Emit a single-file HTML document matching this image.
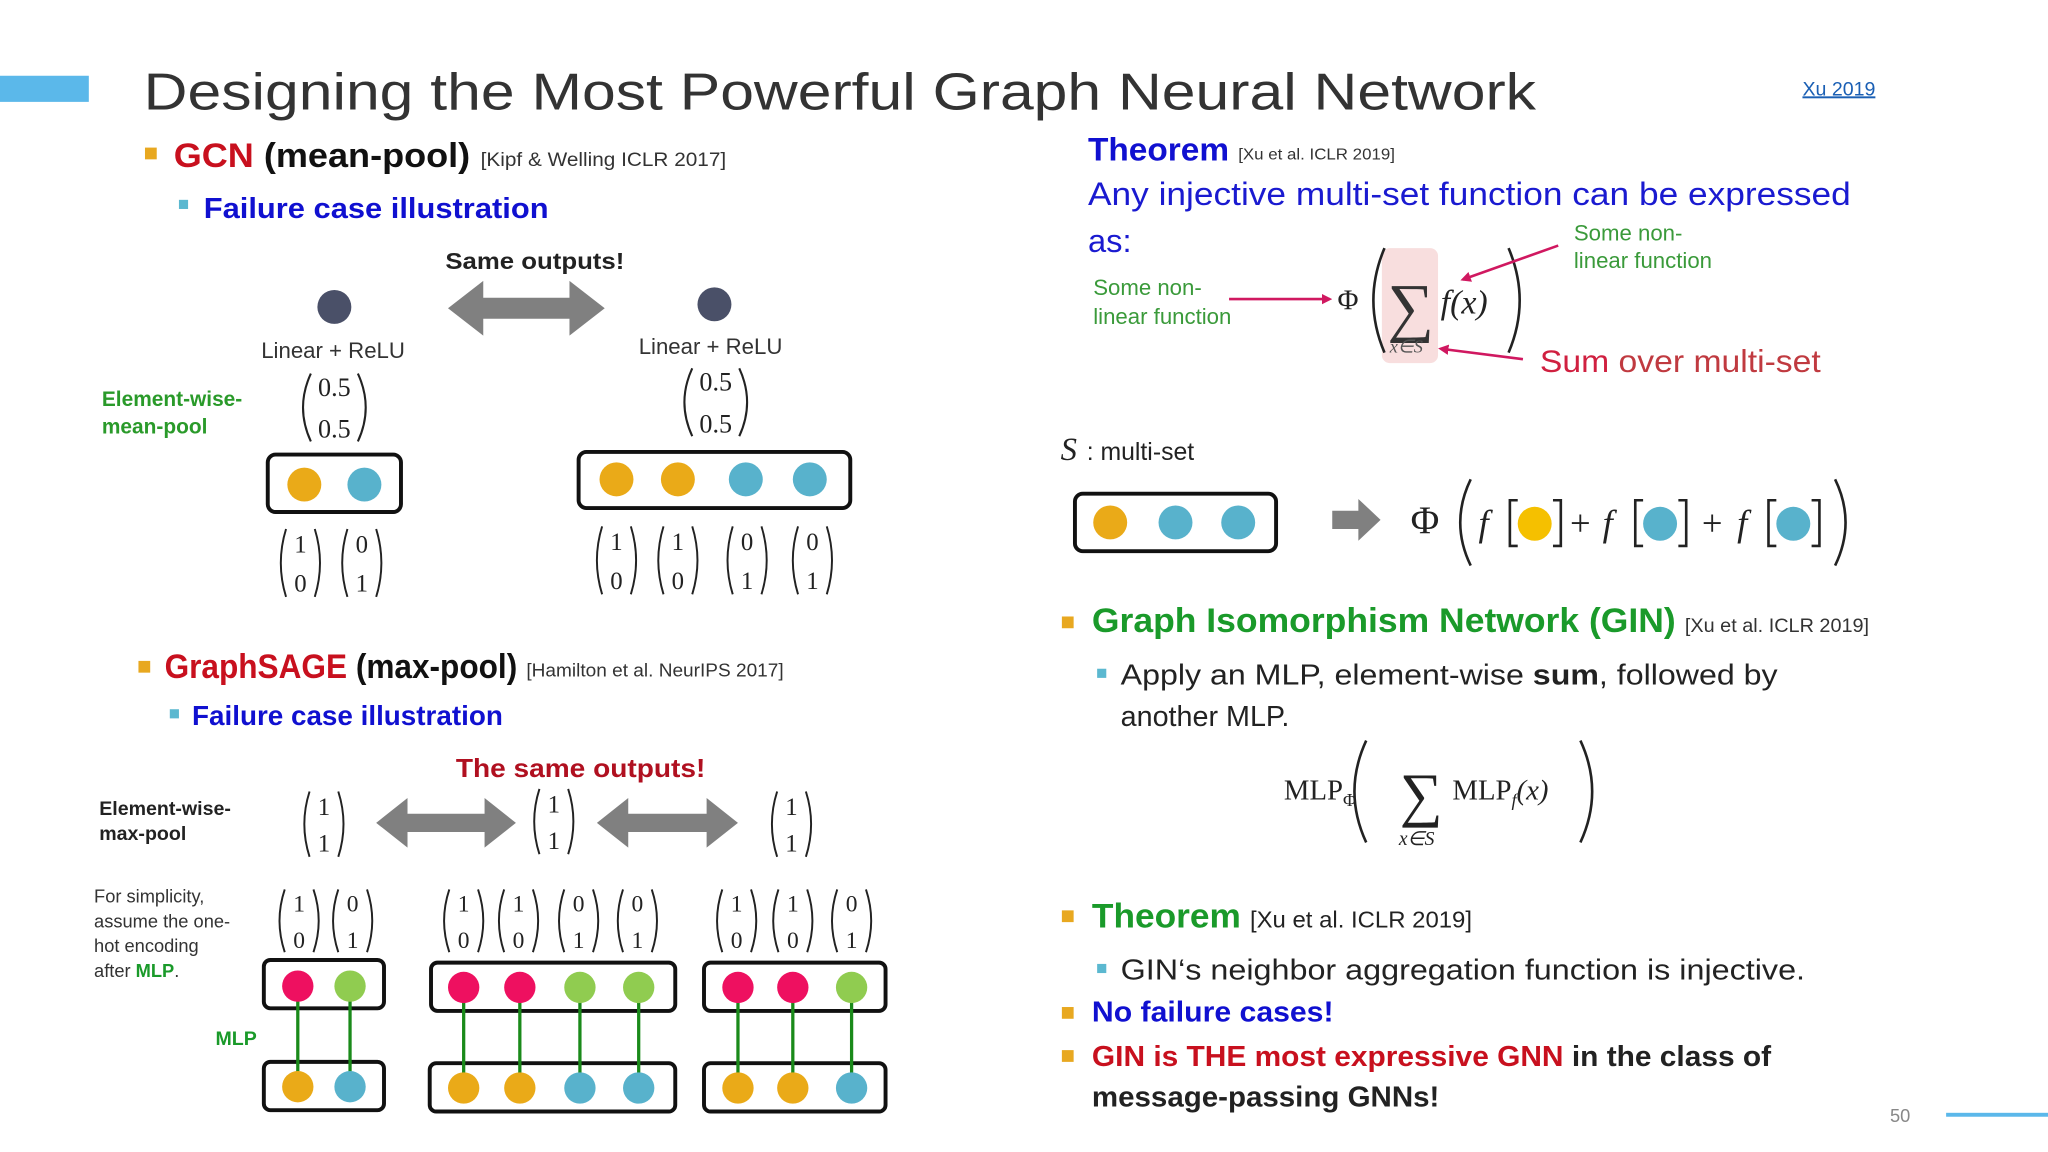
<!DOCTYPE html>
<html><head><meta charset="utf-8"><style>
html,body{margin:0;padding:0;background:#fff;width:2048px;height:1152px;overflow:hidden}
svg{display:block}
.s{font-family:"Liberation Sans",sans-serif}
.r{font-family:"Liberation Serif",serif}
</style></head><body>
<svg width="2048" height="1152" viewBox="0 0 1568 882" xmlns="http://www.w3.org/2000/svg">
<defs>
<marker id="pa" markerWidth="8" markerHeight="8" refX="6" refY="4" orient="auto" markerUnits="userSpaceOnUse"><path d="M0,0 L8,4 L0,8 z" fill="#d01860"/></marker>
</defs>
<rect width="1568" height="882" fill="#fff"/>
<rect x="0" y="58" width="68" height="20" fill="#5bb8ea"/>
<text x="110" y="84" class="s" font-size="40" fill="#333" textLength="1066" lengthAdjust="spacingAndGlyphs">Designing the Most Powerful Graph Neural Network</text>
<text x="1380" y="73" class="s" font-size="15" fill="#1a5fb4" text-decoration="underline">Xu 2019</text>

<!-- GCN -->
<rect x="111" y="113" width="9" height="9" fill="#e8a820"/>
<text x="133" y="128" class="s" font-size="26" font-weight="bold" textLength="227" lengthAdjust="spacingAndGlyphs"><tspan fill="#c8101e">GCN</tspan><tspan fill="#111"> (mean-pool)</tspan></text>
<text x="368" y="127" class="s" font-size="15" fill="#333" textLength="188" lengthAdjust="spacingAndGlyphs">[Kipf &amp; Welling ICLR 2017]</text>
<rect x="137" y="153" width="7" height="7" fill="#5bb8d0"/>
<text x="156" y="167" class="s" font-size="22" font-weight="bold" fill="#1010d0" textLength="264" lengthAdjust="spacingAndGlyphs">Failure case illustration</text>
<text x="341" y="206" class="s" font-size="18" font-weight="bold" fill="#222" textLength="137" lengthAdjust="spacingAndGlyphs">Same outputs!</text>
<circle cx="256" cy="235" r="13" fill="#4a5068"/>
<circle cx="547" cy="233" r="13" fill="#4a5068"/>
<path d="M343,236 L370,215 L370,228 L436,228 L436,215 L463,236 L436,257 L436,244 L370,244 L370,257 z" fill="#808080"/>
<text x="200" y="274" class="s" font-size="17" fill="#333">Linear + ReLU</text>
<text x="489" y="271" class="s" font-size="17" fill="#333">Linear + ReLU</text>
<text x="78" y="311" class="s" font-size="16" font-weight="bold" fill="#2a9a2a">Element-wise-</text>
<text x="78" y="332" class="s" font-size="16" font-weight="bold" fill="#2a9a2a">mean-pool</text>
<g fill="none" stroke="#222" stroke-width="1.6">
<path d="M238,286 Q226,312 238,338 M274,286 Q286,312 274,338"/>
<path d="M530,282 Q518,308 530,334 M566,282 Q578,308 566,334"/>
</g>
<g class="r" font-size="20" fill="#222" text-anchor="middle">
<text x="256" y="303">0.5</text><text x="256" y="335">0.5</text>
<text x="548" y="299">0.5</text><text x="548" y="331">0.5</text>
</g>
<rect x="205" y="348" width="102" height="44" rx="6" fill="none" stroke="#111" stroke-width="3"/>
<circle cx="233" cy="371" r="13" fill="#eaaa18"/><circle cx="279" cy="371" r="13" fill="#58b2cc"/>
<rect x="443" y="346" width="208" height="43" rx="6" fill="none" stroke="#111" stroke-width="3"/>
<circle cx="472" cy="367" r="13" fill="#eaaa18"/><circle cx="519" cy="367" r="13" fill="#eaaa18"/>
<circle cx="571" cy="367" r="13" fill="#58b2cc"/><circle cx="620" cy="367" r="13" fill="#58b2cc"/>
<g fill="none" stroke="#222" stroke-width="1.5">
<path d="M219,405 Q211,431 219,457 M241,405 Q249,431 241,457"/>
<path d="M266,405 Q258,431 266,457 M288,405 Q296,431 288,457"/>
<path d="M461,403 Q453,429 461,455 M483,403 Q491,429 483,455"/>
<path d="M508,403 Q500,429 508,455 M530,403 Q538,429 530,455"/>
<path d="M561,403 Q553,429 561,455 M583,403 Q591,429 583,455"/>
<path d="M611,403 Q603,429 611,455 M633,403 Q641,429 633,455"/>
</g>
<g class="r" font-size="19" fill="#222" text-anchor="middle">
<text x="230" y="423">1</text><text x="230" y="453">0</text>
<text x="277" y="423">0</text><text x="277" y="453">1</text>
<text x="472" y="421">1</text><text x="472" y="451">0</text>
<text x="519" y="421">1</text><text x="519" y="451">0</text>
<text x="572" y="421">0</text><text x="572" y="451">1</text>
<text x="622" y="421">0</text><text x="622" y="451">1</text>
</g>

<!-- GraphSAGE -->
<rect x="106" y="506" width="9" height="9" fill="#e8a820"/>
<text x="126" y="519" class="s" font-size="26" font-weight="bold" textLength="270" lengthAdjust="spacingAndGlyphs"><tspan fill="#c8101e">GraphSAGE</tspan><tspan fill="#111"> (max-pool)</tspan></text>
<text x="403" y="518" class="s" font-size="14" fill="#333" textLength="197" lengthAdjust="spacingAndGlyphs">[Hamilton et al. NeurIPS 2017]</text>
<rect x="130" y="543" width="7" height="7" fill="#5bb8d0"/>
<text x="147" y="555" class="s" font-size="21" font-weight="bold" fill="#1010d0" textLength="238" lengthAdjust="spacingAndGlyphs">Failure case illustration</text>
<text x="349" y="595" class="s" font-size="20" font-weight="bold" fill="#b01020" textLength="191" lengthAdjust="spacingAndGlyphs">The same outputs!</text>
<text x="76" y="624" class="s" font-size="15" font-weight="bold" fill="#222">Element-wise-</text>
<text x="76" y="643" class="s" font-size="15" font-weight="bold" fill="#222">max-pool</text>
<path d="M288,630 L312,611 L312,623 L371,623 L371,611 L395,630 L371,649 L371,637 L312,637 L312,649 z" fill="#808080"/>
<path d="M457,630 L481,611 L481,623 L541,623 L541,611 L565,630 L541,649 L541,637 L481,637 L481,649 z" fill="#808080"/>
<g fill="none" stroke="#222" stroke-width="1.5">
<path d="M237,606 Q229,631 237,656 M259,606 Q267,631 259,656"/>
<path d="M413,604 Q405,629 413,654 M435,604 Q443,629 435,654"/>
<path d="M595,606 Q587,631 595,656 M617,606 Q625,631 617,656"/>
</g>
<g class="r" font-size="19" fill="#222" text-anchor="middle">
<text x="248" y="624">1</text><text x="248" y="652">1</text>
<text x="424" y="622">1</text><text x="424" y="650">1</text>
<text x="606" y="624">1</text><text x="606" y="652">1</text>
</g>
<g class="s" font-size="14" fill="#333">
<text x="72" y="691">For simplicity,</text>
<text x="72" y="710">assume the one-</text>
<text x="72" y="729">hot encoding</text>
<text x="72" y="748">after <tspan fill="#1a9a2a" font-weight="bold">MLP</tspan>.</text>
</g>
<g fill="none" stroke="#222" stroke-width="1.5">
<path d="M218,681 Q210,705 218,729 M240,681 Q248,705 240,729"/>
<path d="M259,681 Q251,705 259,729 M281,681 Q289,705 281,729"/>
<path d="M344,681 Q336,705 344,729 M366,681 Q374,705 366,729"/>
<path d="M386,681 Q378,705 386,729 M408,681 Q416,705 408,729"/>
<path d="M432,681 Q424,705 432,729 M454,681 Q462,705 454,729"/>
<path d="M477,681 Q469,705 477,729 M499,681 Q507,705 499,729"/>
<path d="M553,681 Q545,705 553,729 M575,681 Q583,705 575,729"/>
<path d="M596,681 Q588,705 596,729 M618,681 Q626,705 618,729"/>
<path d="M641,681 Q633,705 641,729 M663,681 Q671,705 663,729"/>
</g>
<g class="r" font-size="18" fill="#222" text-anchor="middle">
<text x="229" y="698">1</text><text x="229" y="726">0</text>
<text x="270" y="698">0</text><text x="270" y="726">1</text>
<text x="355" y="698">1</text><text x="355" y="726">0</text>
<text x="397" y="698">1</text><text x="397" y="726">0</text>
<text x="443" y="698">0</text><text x="443" y="726">1</text>
<text x="488" y="698">0</text><text x="488" y="726">1</text>
<text x="564" y="698">1</text><text x="564" y="726">0</text>
<text x="607" y="698">1</text><text x="607" y="726">0</text>
<text x="652" y="698">0</text><text x="652" y="726">1</text>
</g>
<g fill="none" stroke="#111" stroke-width="3">
<rect x="202" y="735" width="92" height="37" rx="5"/>
<rect x="330" y="737" width="187" height="37" rx="5"/>
<rect x="539" y="737" width="139" height="37" rx="5"/>
<rect x="202" y="813" width="92" height="37" rx="5"/>
<rect x="329" y="814" width="188" height="37" rx="5"/>
<rect x="539" y="814" width="139" height="37" rx="5"/>
</g>
<g stroke="#1a8a1a" stroke-width="2.5">
<line x1="228" y1="766" x2="228" y2="825"/><line x1="268" y1="766" x2="268" y2="825"/>
<line x1="355" y1="766" x2="355" y2="825"/><line x1="398" y1="766" x2="398" y2="825"/>
<line x1="444" y1="766" x2="444" y2="825"/><line x1="489" y1="766" x2="489" y2="825"/>
<line x1="565" y1="766" x2="565" y2="825"/><line x1="607" y1="766" x2="607" y2="825"/>
<line x1="652" y1="766" x2="652" y2="825"/>
</g>
<g>
<circle cx="228" cy="755" r="12" fill="#ee1060"/><circle cx="268" cy="755" r="12" fill="#90cc50"/>
<circle cx="355" cy="756" r="12" fill="#ee1060"/><circle cx="398" cy="756" r="12" fill="#ee1060"/>
<circle cx="444" cy="756" r="12" fill="#90cc50"/><circle cx="489" cy="756" r="12" fill="#90cc50"/>
<circle cx="565" cy="756" r="12" fill="#ee1060"/><circle cx="607" cy="756" r="12" fill="#ee1060"/>
<circle cx="652" cy="756" r="12" fill="#90cc50"/>
<circle cx="228" cy="832" r="12" fill="#eaaa18"/><circle cx="268" cy="832" r="12" fill="#58b2cc"/>
<circle cx="355" cy="833" r="12" fill="#eaaa18"/><circle cx="398" cy="833" r="12" fill="#eaaa18"/>
<circle cx="444" cy="833" r="12" fill="#58b2cc"/><circle cx="489" cy="833" r="12" fill="#58b2cc"/>
<circle cx="565" cy="833" r="12" fill="#eaaa18"/><circle cx="607" cy="833" r="12" fill="#eaaa18"/>
<circle cx="652" cy="833" r="12" fill="#58b2cc"/>
</g>
<text x="165" y="800" class="s" font-size="15" font-weight="bold" fill="#1a9a2a">MLP</text>

<!-- Right: Theorem -->
<text x="833" y="123" class="s" font-size="25" font-weight="bold" fill="#1010d0" textLength="108" lengthAdjust="spacingAndGlyphs">Theorem</text>
<text x="948" y="122" class="s" font-size="12" fill="#333" textLength="120" lengthAdjust="spacingAndGlyphs">[Xu et al. ICLR 2019]</text>
<text x="833" y="157" class="s" font-size="25" fill="#1a1ad0" textLength="584" lengthAdjust="spacingAndGlyphs">Any injective multi-set function can be expressed</text>
<text x="833" y="193" class="s" font-size="25" fill="#1a1ad0">as:</text>
<rect x="1058" y="190" width="43" height="88" rx="6" fill="#f8dede"/>
<text x="837" y="226" class="s" font-size="17" fill="#3a9a3a">Some non-</text>
<text x="837" y="248" class="s" font-size="17" fill="#3a9a3a">linear function</text>
<line x1="941" y1="229" x2="1018" y2="229" stroke="#d01860" stroke-width="2" marker-end="url(#pa)"/>
<text x="1024" y="237" class="r" font-size="22" fill="#222">Φ</text>
<path d="M1060,190 Q1043,230 1060,270" fill="none" stroke="#222" stroke-width="2"/>
<text x="1080" y="252" class="r" font-size="50" fill="#333" text-anchor="middle">∑</text>
<text x="1064" y="270" class="r" font-size="14" font-style="italic" fill="#555">x∈S</text>
<text x="1103" y="240" class="r" font-size="26" font-style="italic" fill="#222">f(x)</text>
<path d="M1155,190 Q1172,230 1155,270" fill="none" stroke="#222" stroke-width="2"/>
<text x="1205" y="184" class="s" font-size="17" fill="#3a9a3a">Some non-</text>
<text x="1205" y="205" class="s" font-size="17" fill="#3a9a3a">linear function</text>
<line x1="1193" y1="188" x2="1120" y2="214" stroke="#d01860" stroke-width="2" marker-end="url(#pa)"/>
<line x1="1166" y1="275" x2="1103" y2="267" stroke="#d01860" stroke-width="2" marker-end="url(#pa)"/>
<text x="1179" y="285" class="s" font-size="24" textLength="215" lengthAdjust="spacingAndGlyphs"><tspan fill="#d02040">Sum </tspan><tspan fill="#c03a40">over multi-set</tspan></text>

<text x="812" y="352" class="r" font-size="25" font-style="italic" fill="#222">S</text>
<text x="832" y="352" class="s" font-size="19" fill="#222">: multi-set</text>
<rect x="823" y="378" width="154" height="44" rx="6" fill="none" stroke="#111" stroke-width="3"/>
<circle cx="850" cy="400" r="13" fill="#eaaa18"/><circle cx="900" cy="400" r="13" fill="#58b2cc"/><circle cx="948" cy="400" r="13" fill="#58b2cc"/>
<path d="M1020,391 L1040,391 L1040,382 L1057,398 L1040,414 L1040,405 L1020,405 z" fill="#808080"/>
<text x="1080" y="408" class="r" font-size="30" fill="#222">Φ</text>
<path d="M1126,367 Q1110,400 1126,433" fill="none" stroke="#222" stroke-width="2"/>
<path d="M1405,367 Q1421,400 1405,433" fill="none" stroke="#222" stroke-width="2"/>
<g class="r" font-size="28" font-style="italic" fill="#222">
<text x="1132" y="410">f</text><text x="1227" y="410">f</text><text x="1330" y="410">f</text>
</g>
<g class="r" font-size="28" fill="#222"><text x="1202" y="410">+</text><text x="1303" y="410">+</text></g>
<g fill="none" stroke="#222" stroke-width="2">
<path d="M1162,383 L1156,383 L1156,418 L1162,418 M1189,383 L1195,383 L1195,418 L1189,418"/>
<path d="M1258,383 L1252,383 L1252,418 L1258,418 M1285,383 L1291,383 L1291,418 L1285,418"/>
<path d="M1360,383 L1354,383 L1354,418 L1360,418 M1387,383 L1393,383 L1393,418 L1387,418"/>
</g>
<circle cx="1175" cy="401" r="13" fill="#f5c000"/><circle cx="1271" cy="401" r="13" fill="#58b2cc"/><circle cx="1373" cy="401" r="13" fill="#58b2cc"/>

<!-- GIN -->
<rect x="813" y="472" width="9" height="9" fill="#e8a820"/>
<text x="836" y="484" class="s" font-size="26" font-weight="bold" fill="#1a9a2a" textLength="447" lengthAdjust="spacingAndGlyphs">Graph Isomorphism Network (GIN)</text>
<text x="1290" y="484" class="s" font-size="15" fill="#333" textLength="141" lengthAdjust="spacingAndGlyphs">[Xu et al. ICLR 2019]</text>
<rect x="840" y="512" width="7" height="7" fill="#5bb8d0"/>
<text x="858" y="524" class="s" font-size="22" fill="#222" textLength="503" lengthAdjust="spacingAndGlyphs">Apply an MLP, element-wise <tspan font-weight="bold">sum</tspan>, followed by</text>
<text x="858" y="556" class="s" font-size="22" fill="#222">another MLP.</text>
<text x="983" y="612" class="r" font-size="22" fill="#222">MLP<tspan font-size="14" dy="5">Φ</tspan></text>
<path d="M1046,567 Q1028,606 1046,645" fill="none" stroke="#222" stroke-width="2"/>
<text x="1088" y="624" class="r" font-size="46" fill="#222" text-anchor="middle">∑</text>
<text x="1071" y="647" class="r" font-size="15" font-style="italic" fill="#222">x∈S</text>
<text x="1112" y="612" class="r" font-size="22" fill="#222">MLP<tspan font-size="14" font-style="italic" dy="5">f</tspan><tspan dy="-5" font-style="italic">(x)</tspan></text>
<path d="M1210,567 Q1228,606 1210,645" fill="none" stroke="#222" stroke-width="2"/>

<rect x="813" y="697" width="9" height="9" fill="#e8a820"/>
<text x="836" y="710" class="s" font-size="26" font-weight="bold" fill="#1a9a2a" textLength="114" lengthAdjust="spacingAndGlyphs">Theorem</text>
<text x="957" y="710" class="s" font-size="18" fill="#222" textLength="170" lengthAdjust="spacingAndGlyphs">[Xu et al. ICLR 2019]</text>
<rect x="840" y="738" width="7" height="7" fill="#5bb8d0"/>
<text x="858" y="750" class="s" font-size="22" fill="#222" textLength="524" lengthAdjust="spacingAndGlyphs">GIN‘s neighbor aggregation function is injective.</text>
<rect x="813" y="771" width="9" height="9" fill="#e8a820"/>
<text x="836" y="782" class="s" font-size="22" font-weight="bold" fill="#1010d0" textLength="185" lengthAdjust="spacingAndGlyphs">No failure cases!</text>
<rect x="813" y="804" width="9" height="9" fill="#e8a820"/>
<text x="836" y="816" class="s" font-size="22" font-weight="bold" textLength="520" lengthAdjust="spacingAndGlyphs"><tspan fill="#c8101e">GIN is THE most expressive GNN</tspan><tspan fill="#222"> in the class of</tspan></text>
<text x="836" y="847" class="s" font-size="22" font-weight="bold" fill="#222" textLength="266" lengthAdjust="spacingAndGlyphs">message-passing GNNs!</text>

<text x="1447" y="859" class="s" font-size="14" fill="#888">50</text>
<rect x="1490" y="852" width="78" height="3" fill="#5bb8ea"/>
</svg>
</body></html>
